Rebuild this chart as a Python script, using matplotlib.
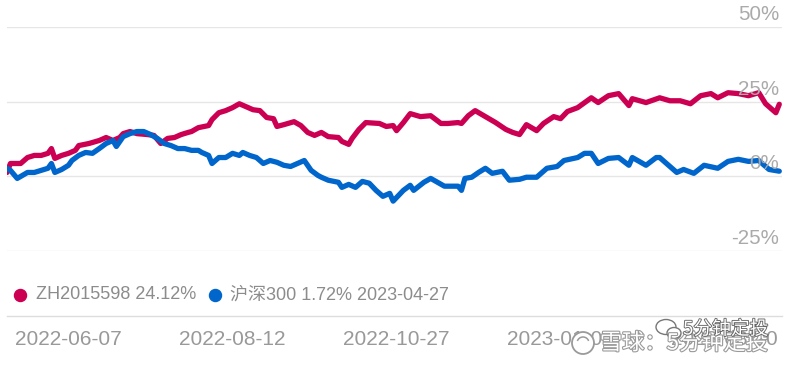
import matplotlib
matplotlib.use('Agg')
import matplotlib.pyplot as plt
import matplotlib.patheffects as pe
from matplotlib import transforms
from matplotlib.patches import Ellipse, Arc

plt.rcParams['font.family'] = ['Liberation Sans', 'Noto Sans CJK SC', 'DejaVu Sans']

# trading-day index and cumulative return (%)
zh_day = [0, 1, 4, 6, 8, 10, 12, 13, 14, 16, 18, 20, 21, 24, 27, 29, 31, 33, 34, 36,
          38, 41, 43, 45, 47, 49, 51, 53, 54, 56, 59, 60, 62, 64, 66, 68, 70, 72, 74, 76,
          78, 79, 81, 84, 86, 88, 90, 92, 94, 97, 98, 100, 101, 103, 105, 109, 111, 113, 114, 116,
          118, 121, 124, 127, 129, 132, 133, 135, 137, 140, 143, 146, 148, 150, 152, 155, 157, 160, 162, 164,
          167, 171, 173, 176, 179, 182, 183, 187, 191, 194, 197, 200, 203, 206, 208, 211, 214, 217, 220, 222,
          225, 226]
zh_pct = [1.3, 4.3, 4.3, 6.3, 7.0, 7.0, 7.7, 9.3, 6.0, 7.0, 7.7, 8.7, 10.3, 11.0, 12.0, 13.0, 12.0, 13.0, 14.3, 15.0,
          14.3, 14.0, 13.7, 11.0, 12.7, 13.0, 14.0, 14.7, 15.0, 16.3, 17.0, 19.0, 21.3, 22.0, 23.0, 24.3, 23.3, 22.3, 22.0, 19.7,
          19.3, 16.7, 17.3, 18.3, 17.0, 14.7, 13.7, 14.7, 13.3, 13.0, 11.7, 10.7, 12.7, 15.7, 18.0, 17.7, 16.7, 17.0, 15.3, 18.0,
          21.0, 20.0, 20.3, 17.7, 17.7, 18.0, 17.7, 20.3, 22.0, 20.0, 18.0, 15.7, 14.7, 14.0, 17.3, 15.3, 17.7, 20.0, 19.3, 21.7,
          23.0, 26.3, 24.7, 27.0, 27.7, 23.7, 26.0, 24.7, 26.3, 25.3, 25.3, 24.3, 27.0, 27.7, 26.3, 28.0, 27.7, 27.0, 28.0, 24.3,
          21.3, 24.12]

hs_day = [0, 1, 3, 6, 8, 10, 12, 13, 14, 16, 18, 19, 21, 23, 25, 27, 29, 31, 32, 34,
          36, 38, 40, 42, 44, 46, 48, 50, 52, 54, 56, 57, 59, 60, 62, 64, 66, 68, 69, 71,
          73, 75, 77, 79, 81, 83, 85, 87, 89, 91, 92, 94, 97, 98, 100, 102, 104, 106, 108, 110,
          112, 113, 116, 118, 119, 122, 124, 126, 128, 132, 133, 134, 136, 138, 140, 142, 145, 147, 150, 152,
          155, 158, 161, 163, 167, 169, 171, 173, 176, 179, 182, 183, 187, 190, 191, 196, 198, 201, 204, 208,
          211, 214, 217, 220, 223, 226]
hs_pct = [2.7, 2.0, -0.7, 1.3, 1.3, 2.0, 2.7, 4.3, 1.3, 2.3, 3.7, 5.3, 7.0, 8.0, 7.7, 9.3, 11.0, 12.0, 10.0, 13.3,
          14.3, 15.0, 15.0, 14.0, 12.7, 11.0, 10.3, 9.3, 9.3, 8.7, 8.7, 8.0, 7.0, 4.3, 6.3, 6.3, 7.7, 7.0, 8.0, 7.0,
          6.3, 4.3, 5.3, 4.7, 3.7, 3.3, 4.3, 5.3, 2.0, 0.3, -0.3, -1.3, -2.0, -3.7, -2.7, -3.7, -1.7, -2.3, -4.7, -6.7,
          -5.7, -8.3, -4.7, -3.0, -4.7, -2.0, -0.7, -2.0, -3.3, -3.3, -4.7, -0.7, -0.3, 1.3, 2.7, 1.0, 1.7, -1.3, -1.0, -0.3,
          -0.3, 2.7, 3.3, 5.3, 6.3, 7.7, 7.7, 4.3, 6.0, 6.3, 3.7, 6.3, 3.7, 6.3, 6.3, 1.3, 2.3, 1.0, 3.7, 2.7,
          5.0, 5.7, 5.0, 5.3, 2.3, 1.72]

tick_day = [18, 66, 114, 162, 210]
tick_lbl = ['2022-06-07', '2022-08-12', '2022-10-27', '2023-01-04', '2023-03-20']
y_ticks = [50, 25, 0, -25]

red = '#cc0052'
blue = '#0066cc'

fig = plt.figure(figsize=(8, 3.67), dpi=100)
ax = fig.add_axes([7/800, 116/367, 775/800, 224/367])
ax.set_xlim(0, 226.8)
ax.set_ylim(-25, 50)
ax.axis('off')

for v in y_ticks:
    ax.axhline(v, color='#e6e6e6', lw=1, zorder=1)

ax.plot(zh_day, zh_pct, color=red, lw=3.8, solid_joinstyle='round', solid_capstyle='round', zorder=3)
ax.plot(hs_day, hs_pct, color=blue, lw=3.8, solid_joinstyle='round', solid_capstyle='round', zorder=3)

# y labels above grid lines, right side
yt = transforms.offset_copy(ax.get_yaxis_transform(), fig=fig, x=-2, y=5, units='points')
for v in y_ticks:
    ax.text(1.0, v, f'{v}%', transform=yt, ha='right', va='baseline',
            fontsize=14.8, color='#aaaaaa', zorder=5)

# legend row
ax.scatter([(20-7)/775], [-0.196], s=75, color=red, transform=ax.transAxes, clip_on=False)
ax.text((36-7)/775, -0.196, 'ZH2015598 24.12%', transform=ax.transAxes, ha='left', va='center',
        fontsize=13, color='#8c8c8c')
ax.scatter([(215-7)/775], [-0.196], s=75, color=blue, transform=ax.transAxes, clip_on=False)
ax.text((230-7)/775, -0.196, '沪深300 1.72% 2023-04-27', transform=ax.transAxes, ha='left', va='center',
        fontsize=13, color='#8c8c8c')

ax.plot([0, 1], [-0.29, -0.29], transform=ax.transAxes, color='#dddddd', lw=1, clip_on=False)

# x tick labels
xt = ax.get_xaxis_transform()
for d, lbl in zip(tick_day, tick_lbl):
    ax.text(d, -0.393, lbl, transform=xt, ha='center', va='center', fontsize=15, color='#999999')

# watermark (drawn on an overlay axes so it sits above the labels)
wax = fig.add_axes([0, 0, 1, 1])
wax.set_xlim(0, 800)
wax.set_ylim(367, 0)
wax.axis('off')
wax.add_patch(Ellipse((583, 343), 22, 22, facecolor='white', edgecolor='#9a9a9a', lw=1.3))
wax.add_patch(Arc((583, 343), 12, 12, theta1=200, theta2=340, edgecolor='#9a9a9a', lw=1.1))
wax.text(600, 343, '雪球：5分钟定投', ha='left', va='center', fontsize=16, color='white',
         path_effects=[pe.withStroke(linewidth=1.6, foreground='#9a9a9a')],
         family=['Noto Sans CJK SC'])
wax.add_patch(Ellipse((666, 327), 20, 15, facecolor='white', edgecolor='#777777', lw=1))
wax.add_patch(Ellipse((674, 333), 14, 11, facecolor='white', edgecolor='#777777', lw=1))
wax.text(683, 329, '5分钟定投', ha='left', va='center', fontsize=13.5, color='white',
         path_effects=[pe.withStroke(linewidth=1.3, foreground='#666666')],
         family=['Noto Sans CJK SC'])

fig.savefig('out.png', dpi=100, facecolor='white')
